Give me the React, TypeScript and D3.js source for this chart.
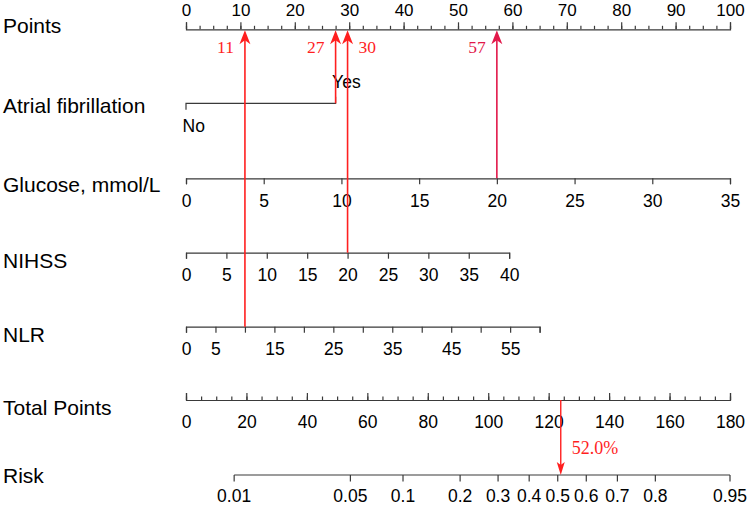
import React, { useRef, useEffect } from 'react';
import * as d3 from 'd3';

// nomogram rows
const rowLabels = ['Points', 'Atrial fibrillation', 'Glucose, mmol/L', 'NIHSS', 'NLR', 'Total Points', 'Risk'];

const pointTicks = [0, 10, 20, 30, 40, 50, 60, 70, 80, 90, 100];

const afLevels = ['No', 'Yes'];
const afPoints = [0, 27.5];

const glucoseTicks = [0, 5, 10, 15, 20, 25, 30, 35];
const glucoseMaxPoints = 100;

const nihssTicks = [0, 5, 10, 15, 20, 25, 30, 35, 40];
const nihssMaxPoints = 59.4;

const nlrTicks = [0, 5, 10, 15, 20, 25, 30, 35, 40, 45, 50, 55, 60];
const nlrLabels = [0, 5, 15, 25, 35, 45, 55];
const nlrMaxPoints = 65;

const totalTicks = [0, 20, 40, 60, 80, 100, 120, 140, 160, 180];

const riskTicks = [0.01, 0.05, 0.1, 0.2, 0.3, 0.4, 0.5, 0.6, 0.7, 0.8, 0.95];
const riskLabels = ['0.01', '0.05', '0.1', '0.2', '0.3', '0.4', '0.5', '0.6', '0.7', '0.8', '0.95'];
// total points where logit(risk) = 0, and points per logit unit
const riskIntercept = 123;
const riskSlope = 23.3;

// worked example for one patient
const patientRows = ['nlr', 'af', 'nihss', 'glucose'];
const patientValues = [10, 1, 20, 20];
const patientPoints = ['11', '27', '30', '57'];
const patientTotal = 124;
const patientRisk = '52.0%';

const arrowColors = ['#ff1f1f', '#ff1f1f', '#ff1f1f', '#e2184a'];
const labelSides = ['left', 'left', 'right', 'left'];

const Nomogram = () => {
  const svgRef = useRef<SVGSVGElement>(null);
  const width = 750;
  const height = 505;
  const left = 186;
  const right = 730;
  const sans = '"Liberation Sans", Arial, sans-serif';
  const serif = '"Liberation Serif", "Times New Roman", serif';
  const axisColor = '#3a3a3a';

  // row layout
  const axisY = { points: 29.3, af: 103.3, glucose: 178.3, nihss: 252.7, nlr: 326.7, total: 400, risk: 475 };
  const labelY = [32.5, 113.3, 192, 268.3, 341.5, 415, 482.7];

  useEffect(() => {
    const svg = d3.select(svgRef.current)
      .attr('width', width)
      .attr('height', height);
    svg.selectAll('*').remove();

    const xPts = d3.scaleLinear().domain([0, 100]).range([left, right]);
    const xTot = d3.scaleLinear().domain([0, 180]).range([left, right]).clamp(true);
    const xGlu = d3.scaleLinear().domain([0, 35]).range([xPts(0), xPts(glucoseMaxPoints)]);
    const xNih = d3.scaleLinear().domain([0, 40]).range([xPts(0), xPts(nihssMaxPoints)]);
    const xNlr = d3.scaleLinear().domain([0, 60]).range([xPts(0), xPts(nlrMaxPoints)]);
    const logitToTotal = d3.scaleLinear().domain([0, 1]).range([riskIntercept, riskIntercept + riskSlope]);
    const xRisk = (p: number) => xTot(logitToTotal(Math.log(p / (1 - p))));

    const styleAxis = (g: any, size: number) => {
      g.select('.domain').attr('stroke', axisColor).attr('stroke-width', 1.2);
      g.selectAll('.tick line').attr('stroke', axisColor).attr('stroke-width', 1.2);
      g.selectAll('.tick text')
        .attr('fill', '#000')
        .attr('font-family', sans)
        .attr('font-size', size);
      g.attr('font-family', null).attr('font-size', null);
    };

    // row labels
    svg.append('g')
      .selectAll('text')
      .data(rowLabels)
      .join('text')
      .attr('x', 3)
      .attr('y', (d, i) => labelY[i])
      .attr('font-family', sans)
      .attr('font-size', 21)
      .attr('fill', '#000')
      .text(d => d);

    // Points axis (top labels, ticks upward)
    const ptsMinor = svg.append('g')
      .attr('transform', `translate(0,${axisY.points})`)
      .call(d3.axisTop(xPts).tickValues(d3.range(0, 100.01, 2.5)).tickSize(3.5).tickSizeOuter(0).tickFormat(() => ''));
    ptsMinor.select('.domain').remove();
    ptsMinor.selectAll('.tick line').attr('stroke', axisColor).attr('stroke-width', 1.2);

    const ptsAxis = svg.append('g')
      .attr('transform', `translate(0,${axisY.points})`)
      .call(d3.axisTop(xPts).tickValues(pointTicks).tickSize(7).tickSizeOuter(7).tickPadding(6.5));
    styleAxis(ptsAxis, 17);

    // Atrial fibrillation
    const af = svg.append('g').attr('transform', `translate(0,${axisY.af})`);
    af.append('path')
      .attr('d', `M${xPts(afPoints[0])},6.5V0H${xPts(afPoints[1])}V-6.5`)
      .attr('fill', 'none')
      .attr('stroke', axisColor)
      .attr('stroke-width', 1.2);
    af.selectAll('text')
      .data(afLevels)
      .join('text')
      .attr('x', (d, i) => xPts(afPoints[i]) - 3.5)
      .attr('y', (d, i) => (i === 0 ? 29 : -15.5))
      .attr('font-family', sans)
      .attr('font-size', 17.5)
      .attr('fill', '#000')
      .text(d => d);

    // continuous predictors (ticks downward)
    const rows = [
      { scale: xGlu, y: axisY.glucose, ticks: glucoseTicks, labels: glucoseTicks },
      { scale: xNih, y: axisY.nihss, ticks: nihssTicks, labels: nihssTicks },
      { scale: xNlr, y: axisY.nlr, ticks: nlrTicks, labels: nlrLabels },
    ];
    rows.forEach(r => {
      const g = svg.append('g')
        .attr('transform', `translate(0,${r.y})`)
        .call(d3.axisBottom(r.scale)
          .tickValues(r.ticks)
          .tickSize(6)
          .tickSizeOuter(6)
          .tickPadding(10)
          .tickFormat((d: any) => (r.labels.includes(d) ? String(d) : '')));
      styleAxis(g, 17.5);
    });

    // Total points
    const totMinor = svg.append('g')
      .attr('transform', `translate(0,${axisY.total})`)
      .call(d3.axisTop(xTot).tickValues(d3.range(0, 180.01, 5)).tickSize(3.5).tickSizeOuter(0).tickFormat(() => ''));
    totMinor.select('.domain').remove();
    totMinor.selectAll('.tick line').attr('stroke', axisColor).attr('stroke-width', 1.2);

    const totAxis = svg.append('g')
      .attr('transform', `translate(0,${axisY.total})`)
      .call(d3.axisBottom(xTot).tickValues(totalTicks).tickSize(0).tickSizeOuter(0).tickPadding(16));
    totAxis.selectAll('.tick line').remove();
    styleAxis(totAxis, 17.5);
    totAxis.select('.domain').remove();
    svg.append('g')
      .attr('transform', `translate(0,${axisY.total})`)
      .call(d3.axisTop(xTot).tickValues(totalTicks).tickSize(7).tickSizeOuter(7).tickFormat(() => ''))
      .call((g: any) => styleAxis(g, 17.5));

    // Risk
    const risk = svg.append('g').attr('transform', `translate(0,${axisY.risk})`);
    risk.append('line')
      .attr('x1', xRisk(riskTicks[0]))
      .attr('x2', xRisk(riskTicks[riskTicks.length - 1]))
      .attr('stroke', axisColor)
      .attr('stroke-width', 1.2);
    risk.selectAll('line.tk')
      .data(riskTicks)
      .join('line')
      .attr('class', 'tk')
      .attr('x1', d => xRisk(d))
      .attr('x2', d => xRisk(d))
      .attr('y1', 0)
      .attr('y2', 6.5)
      .attr('stroke', axisColor)
      .attr('stroke-width', 1.2);
    risk.selectAll('text')
      .data(riskTicks)
      .join('text')
      .attr('x', d => xRisk(d))
      .attr('y', 26.5)
      .attr('text-anchor', 'middle')
      .attr('font-family', sans)
      .attr('font-size', 17.5)
      .attr('fill', '#000')
      .text((d, i) => riskLabels[i]);

    // patient arrows up to the Points axis
    const rowScale: any = {
      nlr: { x: (v: number) => xNlr(v), y: axisY.nlr },
      af: { x: (v: number) => xPts(afPoints[v]), y: axisY.af },
      nihss: { x: (v: number) => xNih(v), y: axisY.nihss },
      glucose: { x: (v: number) => xGlu(v), y: axisY.glucose },
    };
    const tipY = axisY.points + 1;
    const arrows = svg.append('g');
    patientRows.forEach((row, i) => {
      const x = rowScale[row].x(patientValues[i]);
      const y0 = rowScale[row].y;
      const c = arrowColors[i];
      arrows.append('line')
        .attr('x1', x).attr('x2', x)
        .attr('y1', y0).attr('y2', tipY + 8)
        .attr('stroke', c)
        .attr('stroke-width', 1.6);
      arrows.append('path')
        .attr('d', `M${x},${tipY}L${x - 5.5},${tipY + 14}L${x},${tipY + 10}L${x + 5.5},${tipY + 14}Z`)
        .attr('fill', c);
      const isLeft = labelSides[i] === 'left';
      arrows.append('text')
        .attr('x', isLeft ? x - 11 : x + 11)
        .attr('y', 53.3)
        .attr('text-anchor', isLeft ? 'end' : 'start')
        .attr('font-family', serif)
        .attr('font-size', 17.5)
        .attr('fill', c)
        .text(patientPoints[i]);
    });

    // total points down to risk
    const xt = xTot(patientTotal);
    arrows.append('line')
      .attr('x1', xt).attr('x2', xt)
      .attr('y1', axisY.total).attr('y2', axisY.risk - 8)
      .attr('stroke', '#ff1f1f')
      .attr('stroke-width', 1.4);
    arrows.append('path')
      .attr('d', `M${xt},${axisY.risk}L${xt - 4},${axisY.risk - 13}L${xt},${axisY.risk - 10}L${xt + 4},${axisY.risk - 13}Z`)
      .attr('fill', '#ff1f1f');
    arrows.append('text')
      .attr('x', xt + 11)
      .attr('y', 454.3)
      .attr('font-family', serif)
      .attr('font-size', 18)
      .attr('fill', '#ff1f1f')
      .text(patientRisk);
  }, []);

  return <svg ref={svgRef} style={{ position: 'absolute', left: 0, top: 0, background: '#fff' }}></svg>;
};

export default function App() {
  return <Nomogram />;
}
